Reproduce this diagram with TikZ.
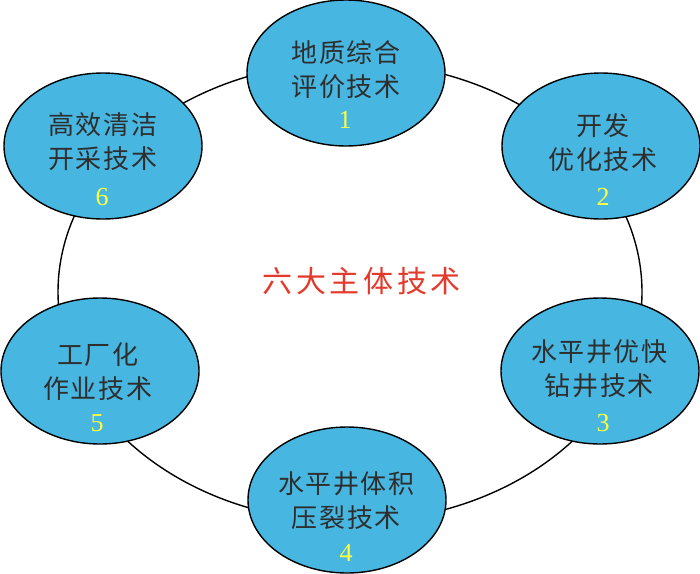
\documentclass[tikz,border=0pt]{standalone}
\usepackage{fontspec}
\usetikzlibrary{shapes.geometric}
\newfontfamily\cjk[LetterSpace=6]{Noto Sans CJK SC}
\newfontfamily\cjkwide[LetterSpace=12]{Noto Sans CJK SC}
\newfontfamily\numfont{Liberation Serif}
\definecolor{bub}{HTML}{47B7E1}
\definecolor{txtc}{HTML}{2E2E2E}
\definecolor{numc}{HTML}{FFFF40}
\definecolor{redc}{HTML}{E33A2C}
\tikzset{
  bubble/.style={ellipse, draw=black, line width=1.4pt, fill=bub,
    minimum width=198pt, minimum height=146pt, inner sep=0pt},
  btext/.style={align=center, text=txtc, inner sep=0pt,
    font={\cjk\fontsize{26}{34}\selectfont}},
  bnum/.style={text=numc, inner sep=0pt, font={\numfont\fontsize{26}{26}\selectfont}},
  ring/.style={draw=black, line width=1.4pt},
}
\begin{document}
\begin{tikzpicture}[x=1pt,y=-1pt]
\useasboundingbox (0,0) rectangle (700,573);
% ring
\draw[ring] (350,292) ellipse [x radius=292, y radius=230];
% bubbles
\node[bubble] (e1) at (346,73) {};
\node[bubble] (e2) at (601,146) {};
\node[bubble] (e3) at (600,371) {};
\node[bubble] (e4) at (347,500) {};
\node[bubble] (e5) at (100,371) {};
\node[bubble] (e6) at (103,146) {};
% texts
\node[btext] (t1) at (345.8,69.5) {地质综合\\评价技术};
\node[btext] (t2) at (602.8,142.5) {开发\\优化技术};
\node[btext] (t3) at (599.3,368.5) {水平井优快\\钻井技术};
\node[btext] (t4) at (346.3,500.5) {水平井体积\\压裂技术};
\node[btext] (t5) at (97.8,371.5) {工厂化\\作业技术};
\node[btext] (t6) at (102.8,141.5) {高效清洁\\开采技术};
% numbers
\node[bnum] (m1) at (345,120) {1};
\node[bnum] (m2) at (603,197) {2};
\node[bnum] (m3) at (603,423) {3};
\node[bnum] (m4) at (346,553) {4};
\node[bnum] (m5) at (97,423) {5};
\node[bnum] (m6) at (102,197) {6};
% center title
\node[text=redc, inner sep=0pt, font={\cjkwide\fontsize{30}{30}\selectfont}] (title) at (361.8,281) {六大主体技术};
\end{tikzpicture}
\end{document}
